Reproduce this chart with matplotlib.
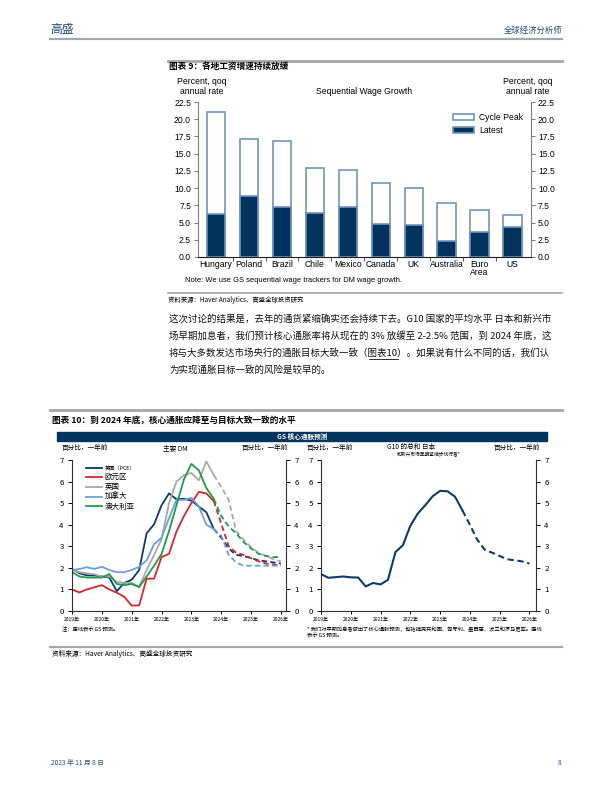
import numpy as np
import matplotlib
matplotlib.use('Agg')
import matplotlib.pyplot as plt
from matplotlib.lines import Line2D
from matplotlib.patches import Rectangle

plt.rcParams['font.family'] = ['Noto Sans CJK SC', 'DejaVu Sans']
EN = ['Liberation Sans', 'DejaVu Sans']

# 图表 9 数据
countries = ['Hungary', 'Poland', 'Brazil', 'Chile', 'Mexico', 'Canada', 'UK', 'Australia', 'Euro\nArea', 'US']
cycle_peak = [21.1, 17.2, 16.8, 12.9, 12.7, 10.8, 10.0, 7.8, 6.8, 6.15]
latest = [6.2, 8.9, 7.2, 6.4, 7.3, 4.8, 4.6, 2.35, 3.7, 4.4]

# 图表 10 数据（季度，2019Q1 - 2026Q1）
quarters = np.arange(2019, 2026.01, 0.25)
us_pce = [1.95, 1.75, 1.65, 1.65, 1.6, 1.55, 0.92, 1.3, 1.45, 1.9, 3.6, 4.02, 4.9, 5.45, 5.18, 5.2, 5.12, 4.84, 4.58, 3.8,
          3.4, 2.9, 2.6, 2.55, 2.45, 2.35, 2.3, 2.25, 2.2]
euro = [1.0, 0.86, 1.0, 1.1, 1.2, 1.0, 0.85, 0.66, 0.25, 0.26, 1.5, 1.5, 2.5, 2.65, 3.68, 4.4, 5.0, 5.52, 5.45, 5.1,
        4.05, 3.0, 2.7, 2.6, 2.45, 2.3, 2.2, 2.15, 2.1]
uk = [1.9, 1.8, 1.75, 1.7, 1.6, 1.6, 1.35, 1.3, 1.3, 1.12, 1.9, 2.6, 3.33, 5.0, 6.0, 6.3, 6.4, 6.06, 6.93, 6.3,
      5.75, 5.15, 3.7, 3.3, 2.95, 2.7, 2.55, 2.4, 2.3]
canada = [1.9, 1.95, 2.03, 1.95, 2.05, 1.9, 1.8, 1.8, 1.9, 2.05, 2.35, 3.1, 3.4, 4.3, 5.15, 5.15, 5.25, 4.85, 4.0, 3.8,
          3.5, 2.6, 2.25, 2.1, 2.1, 2.1, 2.1, 2.1, 2.1]
australia = [1.8, 1.6, 1.55, 1.55, 1.55, 1.71, 1.25, 1.2, 1.25, 1.11, 1.6, 2.1, 2.64, 3.7, 4.9, 6.1, 6.82, 6.52, 5.7, 5.2,
             4.4, 3.92, 3.6, 3.2, 2.9, 2.65, 2.55, 2.5, 2.5]
g10_em = [1.71, 1.54, 1.57, 1.6, 1.56, 1.55, 1.14, 1.3, 1.23, 1.45, 2.73, 3.05, 3.95, 4.52, 4.9, 5.32, 5.57, 5.55, 5.3, 4.66,
          4.0, 3.3, 2.84, 2.7, 2.55, 2.4, 2.35, 2.3, 2.2]
split = 19  # 2023Q4 之后为 GS 预测（虚线）

left_series = [('美国（PCE）', us_pce, '#0d3a68'), ('欧元区', euro, '#d9262c'), ('英国', uk, '#a8a8a8'),
               ('加拿大', canada, '#6f9fd6'), ('澳大利亚', australia, '#1f9a4c')]
year_labels = [f'{y}年' for y in range(2019, 2027)]

W, H = 612, 792
BLUE = '#1f4e79'
GRAY_LINE = '#a6a6a6'


def box(x0, y0, x1, y1):
    return [x0 / W, 1 - y1 / H, (x1 - x0) / W, (y1 - y0) / H]


def txt(x, y, s, **kw):
    kw.setdefault('va', 'center')
    return fig.text(x / W, 1 - y / H, s, **kw)


def hline(x0, x1, y, color=GRAY_LINE, lw=1.6):
    fig.add_artist(Line2D([x0 / W, x1 / W], [1 - y / H, 1 - y / H], color=color, lw=lw))


fig = plt.figure(figsize=(6.12, 7.92), dpi=100)

# 页眉
txt(50, 29, '高盛', fontsize=8.5, color=BLUE)
txt(562, 30, '全球经济分析师', fontsize=6, color=BLUE, ha='right')
hline(50, 562, 39)

# ---------------- 图表 9 ----------------
hline(168, 562, 61, lw=2)
txt(169, 66, '图表 9：各地工资增速持续放缓', fontsize=6.2, fontweight='bold')

ax1 = fig.add_axes(box(198, 102, 531, 257))
x = np.arange(len(countries))
ax1.bar(x, cycle_peak, width=0.56, color='white', edgecolor='#7395ba', lw=1.2, label='Cycle Peak')
ax1.bar(x, latest, width=0.56, color='#00345f', edgecolor='#7395ba', lw=1.2, label='Latest')
ax1.set_xlim(-0.55, 9.56)
ax1.set_ylim(0, 22.5)
ax1.set_yticks(np.arange(0, 22.6, 2.5))
ax1.set_yticklabels([f'{v:.1f}' for v in np.arange(0, 22.6, 2.5)], family=EN, fontsize=6.2)
ax1.set_xticks(x)
ax1.set_xticklabels(countries, family=EN, fontsize=6.2, linespacing=0.95)
ax1.set_xticks(x[:-1] + 0.5, minor=True)
ax1.tick_params(axis='x', which='major', length=0, pad=2)
ax1.tick_params(axis='x', which='minor', length=3, direction='out', color='#404040')
ax1.tick_params(axis='y', length=3, color='#808080', pad=2, right=True, labelright=True)
ax1.spines['top'].set_visible(False)
for s in ['left', 'right']:
    ax1.spines[s].set_color('#808080')
ax1.spines['bottom'].set_color('#202020')
ax1.legend(loc='upper right', bbox_to_anchor=(1.0, 0.98), frameon=False, prop={'family': EN, 'size': 6.2},
           handlelength=2.4, handleheight=0.7, handletextpad=0.6, labelspacing=0.5)

txt(202, 82, 'Percent, qoq', family=EN, fontsize=6.2, ha='center')
txt(202, 92, 'annual rate', family=EN, fontsize=6.2, ha='center')
txt(528, 82, 'Percent, qoq', family=EN, fontsize=6.2, ha='center')
txt(528, 92, 'annual rate', family=EN, fontsize=6.2, ha='center')
txt(364, 92, 'Sequential Wage Growth', family=EN, fontsize=6.2, ha='center')
txt(185, 281, 'Note: We use GS sequential wage trackers for DM wage growth.', family=EN, fontsize=5.4)

hline(168, 562, 293, lw=1.2)
txt(168, 300, '资料来源：Haver Analytics、高盛全球投资研究', fontsize=4.6)

# 正文
PARA_FS = 6.8
para = ['这次讨论的结果是，去年的通货紧缩确实还会持续下去。G10 国家的平均水平 日本和新兴市',
        '场早期加息者，我们预计核心通胀率将从现在的 3% 放缓至 2-2.5% 范围，到 2024 年底，这',
        '将与大多数发达市场央行的通胀目标大致一致（图表10）。如果说有什么不同的话，我们认',
        '为实现通胀目标一致的风险是较早的。']
para_y = [319, 336, 353, 370]
for s, yy in zip(para, para_y):
    txt(169, yy, s, fontsize=PARA_FS, color='#111111')

# 给“图表10”加下划线
fig.canvas.draw()
r = fig.canvas.get_renderer()
pre = txt(0, -100, '将与大多数发达市场央行的通胀目标大致一致（', fontsize=PARA_FS)
lnk = txt(0, -100, '图表10', fontsize=PARA_FS)
w_pre = pre.get_window_extent(r).width
w_lnk = lnk.get_window_extent(r).width
pre.remove()
lnk.remove()
hline(169 + w_pre, 169 + w_pre + w_lnk, para_y[2] + 6, color='#111111', lw=0.6)

# ---------------- 图表 10 ----------------
hline(50, 562, 410, lw=2)
txt(52, 420, '图表 10：到 2024 年底，核心通胀应降至与目标大致一致的水平', fontsize=6.2, fontweight='bold')
fig.add_artist(Rectangle((57 / W, 1 - 441 / H), (547 - 57) / W, 9 / H, color='#00355f', transform=fig.transFigure))
txt(302, 436.5, 'GS 核心通胀预测', fontsize=4.8, color='white', ha='center', fontweight='bold')

txt(62, 448, '百分比，一年前', fontsize=4.8)
txt(163, 448, '主要 DM', fontsize=4.8)
txt(288, 448, '百分比，一年前', fontsize=4.8, ha='right')
txt(307, 448, '百分比，一年前', fontsize=4.8)
txt(387, 447, 'G10 的总和 日本', fontsize=4.8)
txt(397, 455, '和新兴市场早期紧缩步伐行者*', fontsize=3.4)
txt(540, 448, '百分比，一年前', fontsize=4.8, ha='right')


def style_axis(ax, xmax):
    ax.set_xlim(2019, xmax)
    ax.set_ylim(0, 7)
    ax.set_xticks(range(2019, 2027))
    ax.set_xticklabels(year_labels, fontsize=3.6)
    ax.set_yticks(range(0, 8))
    ax.tick_params(axis='y', labelsize=5.6, length=3, width=0.7, right=True, labelright=True, pad=3)
    ax.tick_params(axis='x', length=2.5, width=0.7, pad=2)
    ax.spines['top'].set_visible(False)
    for s in ['left', 'right', 'bottom']:
        ax.spines[s].set_color('#303030')
        ax.spines[s].set_linewidth(0.8)


ax2 = fig.add_axes(box(72, 460, 286, 611))
handles = []
for name, vals, col in left_series:
    h, = ax2.plot(quarters[:split + 1], vals[:split + 1], color=col, lw=1.3, label=name)
    ax2.plot(quarters[split:], vals[split:], color=col, lw=1.3, ls=(0, (3, 1.8)))
    handles.append(h)
style_axis(ax2, 2026.17)
leg2 = ax2.legend(handles=handles, loc='upper left', bbox_to_anchor=(0.04, 1.0), frameon=False, fontsize=5.4,
                  handlelength=2.2, handletextpad=0.3, labelspacing=0.25, borderaxespad=0.3)
leg2.get_texts()[0].set_fontsize(3.8)

ax3 = fig.add_axes(box(321, 460, 536, 611))
ax3.plot(quarters[:split + 1], g10_em[:split + 1], color='#0d3a68', lw=1.5)
ax3.plot(quarters[split:], g10_em[split:], color='#0d3a68', lw=1.5, ls=(0, (3, 1.8)))
style_axis(ax3, 2026.22)

txt(62, 629, '注：虚线表示 GS 预测。', fontsize=3.8)
txt(307, 629, '* 我们对早期加息者做出了核心通胀预测，包括捷克共和国、匈牙利、墨西哥、波兰和罗马尼亚。虚线', fontsize=3.8)
txt(307, 635, '表示 GS 预测。', fontsize=3.8)

hline(50, 562, 647, lw=1.6)
txt(52, 654, '资料来源：Haver Analytics、高盛全球投资研究', fontsize=4.8)

# 页脚
txt(51, 763, '2023 年 11 月 8 日', fontsize=4.8, color=BLUE)
txt(561, 763, '8', fontsize=4.8, color=BLUE, ha='right')

fig.savefig('out.png', dpi=100)
